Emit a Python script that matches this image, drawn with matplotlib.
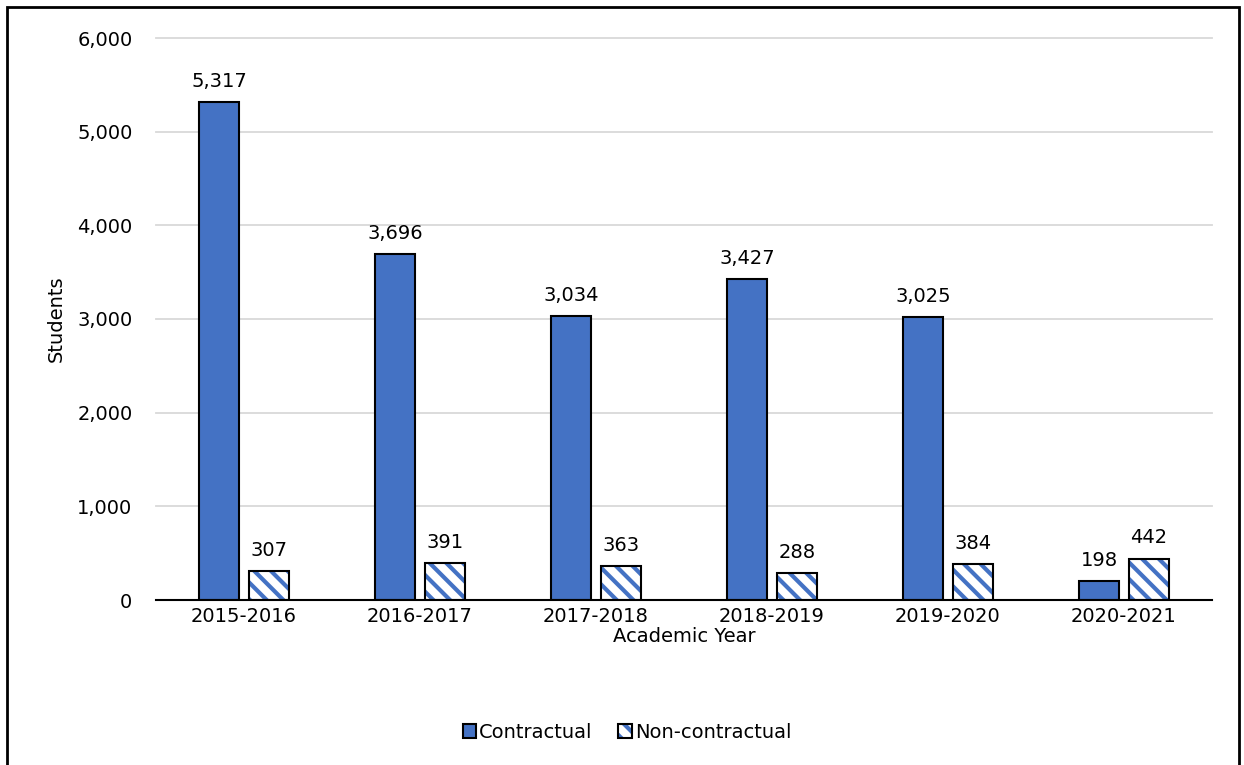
import numpy as np
import matplotlib
matplotlib.use("Agg")
import matplotlib.pyplot as plt
from matplotlib.patches import Rectangle
from matplotlib.legend_handler import HandlerTuple

years = ["2015-2016", "2016-2017", "2017-2018", "2018-2019", "2019-2020", "2020-2021"]
contractual = [5317, 3696, 3034, 3427, 3025, 198]
non_contractual = [307, 391, 363, 288, 384, 442]

blue = "#4472C4"
plt.rcParams["font.family"] = ["DejaVu Sans"]
plt.rcParams["hatch.linewidth"] = 3.0
fs = 14

fig = plt.figure(figsize=(12.44, 7.65), dpi=100)
ax = fig.add_axes([156 / 1244, 1 - 600 / 765, (1212 - 156) / 1244, (600 - 38) / 765])

x = np.arange(len(years))
w = 0.227
off = 0.142

b1 = ax.bar(x - off, contractual, w, color=blue, edgecolor="black", linewidth=1.5, zorder=3)
# hatched fill first (hatch takes the edge colour), then a black outline on top
b2h = ax.bar(x + off, non_contractual, w, color="white", edgecolor=blue, linewidth=0,
             hatch="\\\\", zorder=3)
b2o = ax.bar(x + off, non_contractual, w, fill=False, edgecolor="black", linewidth=1.5, zorder=4)

for xi, v in zip(x - off, contractual):
    ax.annotate(f"{v:,}", (xi, v), xytext=(0, 8), textcoords="offset points",
                ha="center", va="bottom", fontsize=fs)
for xi, v in zip(x + off, non_contractual):
    ax.annotate(f"{v:,}", (xi, v), xytext=(0, 8), textcoords="offset points",
                ha="center", va="bottom", fontsize=fs)

ax.set_xlim(-0.5, len(years) - 0.5)
ax.set_ylim(0, 6000)
ax.set_yticks(np.arange(0, 6001, 1000))
ax.set_yticklabels([f"{t:,}" for t in range(0, 6001, 1000)], fontsize=fs)
ax.set_xticks(x)
ax.set_xticklabels(years, fontsize=fs)
ax.tick_params(axis="y", length=0, pad=17)
ax.tick_params(axis="x", length=0, pad=5)
ax.grid(axis="y", color="#D9D9D9", linewidth=1.3, zorder=0)
ax.set_axisbelow(True)
for gl in ax.get_ygridlines():
    gl.set_clip_on(False)
for s in ["top", "right", "left"]:
    ax.spines[s].set_visible(False)
ax.spines["bottom"].set_linewidth(1.5)
ax.spines["bottom"].set_zorder(5)

ax.set_ylabel("Students", fontsize=fs, labelpad=8)
ax.set_xlabel("Academic Year", fontsize=fs, labelpad=1)

fig.legend([b1[0], (b2h[0], b2o[0])], ["Contractual", "Non-contractual"],
           handler_map={tuple: HandlerTuple(ndivide=1)},
           loc="center", bbox_to_anchor=(627 / 1244, 33 / 765), ncol=2, frameon=False,
           fontsize=fs, handlelength=0.7, handleheight=0.7, handletextpad=0.15,
           columnspacing=1.3)

border = Rectangle((7 / 1244, -0.02), (1239 - 7) / 1244, (765 - 7) / 765 + 0.02,
                   transform=fig.transFigure, fill=False, edgecolor="black",
                   linewidth=2, clip_on=False)
fig.patches.append(border)

fig.savefig("out.png", dpi=100)
